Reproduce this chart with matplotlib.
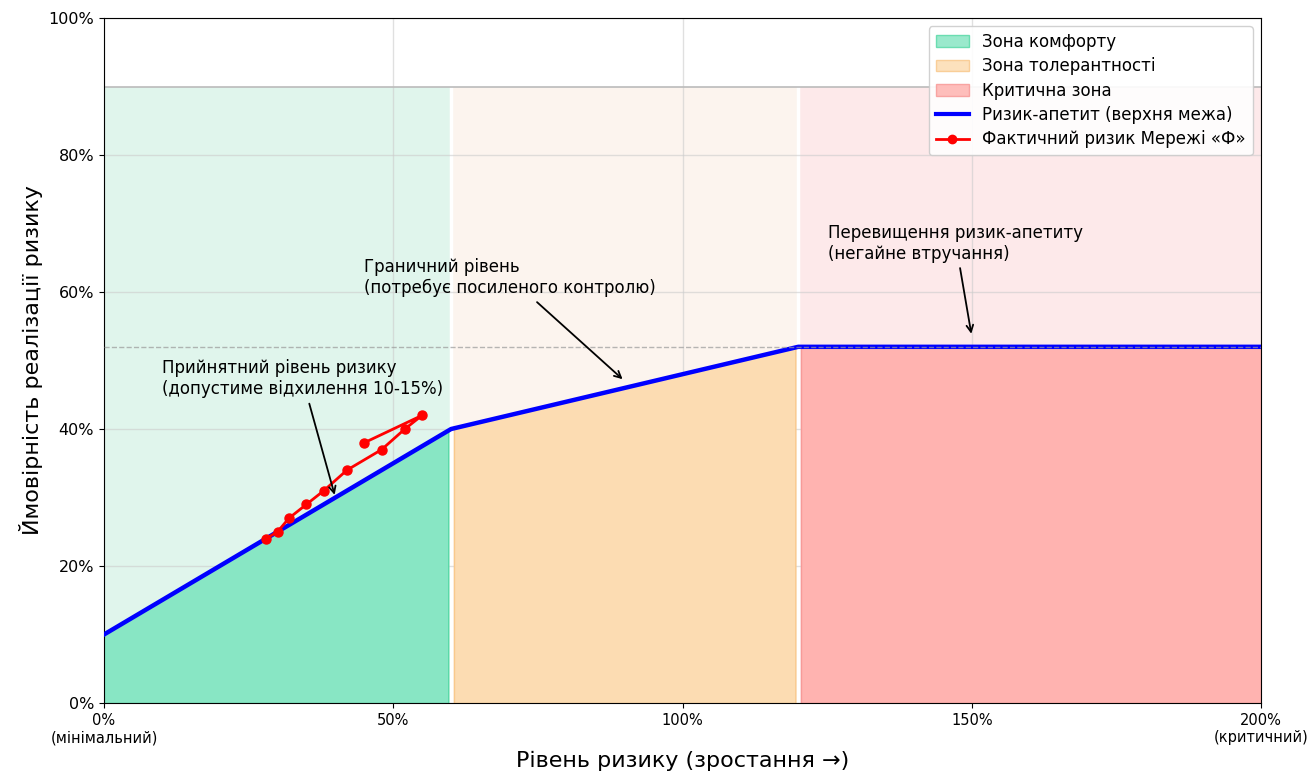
import numpy as np
import matplotlib
matplotlib.use("Agg")
import matplotlib.pyplot as plt
from matplotlib.patches import Patch
from matplotlib.lines import Line2D

# risk appetite boundary (upper limit)
appetite_x = [0, 60, 120, 200]
appetite_y = [10, 40, 52, 52]

# actual risk of the network
actual_x = [28, 30, 32, 35, 38, 42, 48, 52, 55, 45]
actual_y = [24, 25, 27, 29, 31, 34, 37, 40, 42, 38]

zone_names = ["Зона комфорту", "Зона толерантності", "Критична зона"]
zone_bounds = [(0, 60), (60, 120), (120, 200)]
zone_fill = ["#88e6c4", "#fcdcb2", "#ffb3b0"]
zone_edge = ["#5ad9a8", "#f9c98c", "#f79a98"]
zone_bg = ["#e0f5ec", "#fcf4ee", "#fde9ea"]

x_ticks = [0, 50, 100, 150, 200]
x_labels = ["0%\n(мінімальний)", "50%", "100%", "150%", "200%\n(критичний)"]
y_ticks = [0, 20, 40, 60, 80, 100]

fig = plt.figure(figsize=(13.11, 7.8), dpi=100)
ax = fig.add_axes([0.0793, 0.0987, 0.8826, 0.8782])

# zone backgrounds
for (x0, x1), c in zip(zone_bounds, zone_bg):
    ax.fill_between([x0, x1], 0, 90, color=c, lw=0, zorder=0)
for xb in [60, 120]:
    ax.plot([xb, xb], [0, 90], color="white", lw=2.5, zorder=0.5)
ax.plot([0, 200], [90, 90], color="#bbbbbb", lw=1.2, zorder=0.6)

# fills under the appetite line
for (x0, x1), fc, ec in zip(zone_bounds, zone_fill, zone_edge):
    lo = x0 + 0.5 if x0 > 0 else x0
    hi = x1 - 0.5 if x1 < 200 else x1
    xs = np.linspace(lo, hi, 100)
    ys = np.interp(xs, appetite_x, appetite_y)
    ax.fill_between(xs, 0, ys, facecolor=fc, edgecolor=ec, lw=1, zorder=1)

ax.grid(True, color="#cccccc", alpha=0.6, lw=1, zorder=0.8)
ax.set_axisbelow(True)

ax.plot(appetite_x, appetite_y, color="blue", lw=3.2, zorder=3)
ax.axhline(52, color="#999999", ls="--", lw=1, alpha=0.7, zorder=4)
ax.plot(actual_x, actual_y, color="red", lw=2, marker="o", ms=6.5, zorder=5)

arrow = dict(arrowstyle="->", color="black", lw=1.3)
ax.annotate("Прийнятний рівень ризику\n(допустиме відхилення 10-15%)",
            xy=(40, 30), xytext=(10, 44.5), fontsize=12, ha="left", va="bottom",
            arrowprops=arrow, zorder=6)
ax.annotate("Граничний рівень\n(потребує посиленого контролю)",
            xy=(90, 47), xytext=(45, 59.2), fontsize=12, ha="left", va="bottom",
            arrowprops=arrow, zorder=6)
ax.annotate("Перевищення ризик-апетиту\n(негайне втручання)",
            xy=(150, 53.5), xytext=(125.2, 64.3), fontsize=12, ha="left", va="bottom",
            arrowprops=arrow, zorder=6)

ax.set_xlim(0, 200)
ax.set_ylim(0, 100)
ax.set_xticks(x_ticks)
ax.set_xticklabels(x_labels, fontsize=10.5)
ax.set_yticks(y_ticks)
ax.set_yticklabels([f"{v}%" for v in y_ticks], fontsize=11.5)
ax.set_xlabel("Рівень ризику (зростання →)", fontsize=16)
ax.set_ylabel("Ймовірність реалізації ризику", fontsize=16)

handles = [Patch(facecolor=fc, edgecolor=ec, label=n, alpha=0.85)
           for n, fc, ec in zip(zone_names, zone_fill, zone_edge)]
handles.append(Line2D([], [], color="blue", lw=3, label="Ризик-апетит (верхня межа)"))
handles.append(Line2D([], [], color="red", lw=2, marker="o", ms=6,
                      label="Фактичний ризик Мережі «Ф»"))
ax.legend(handles=handles, loc="upper right", fontsize=12, labelspacing=0.38,
          framealpha=0.9, bbox_to_anchor=(1.0, 1.0))

fig.savefig("out.png", dpi=100)
